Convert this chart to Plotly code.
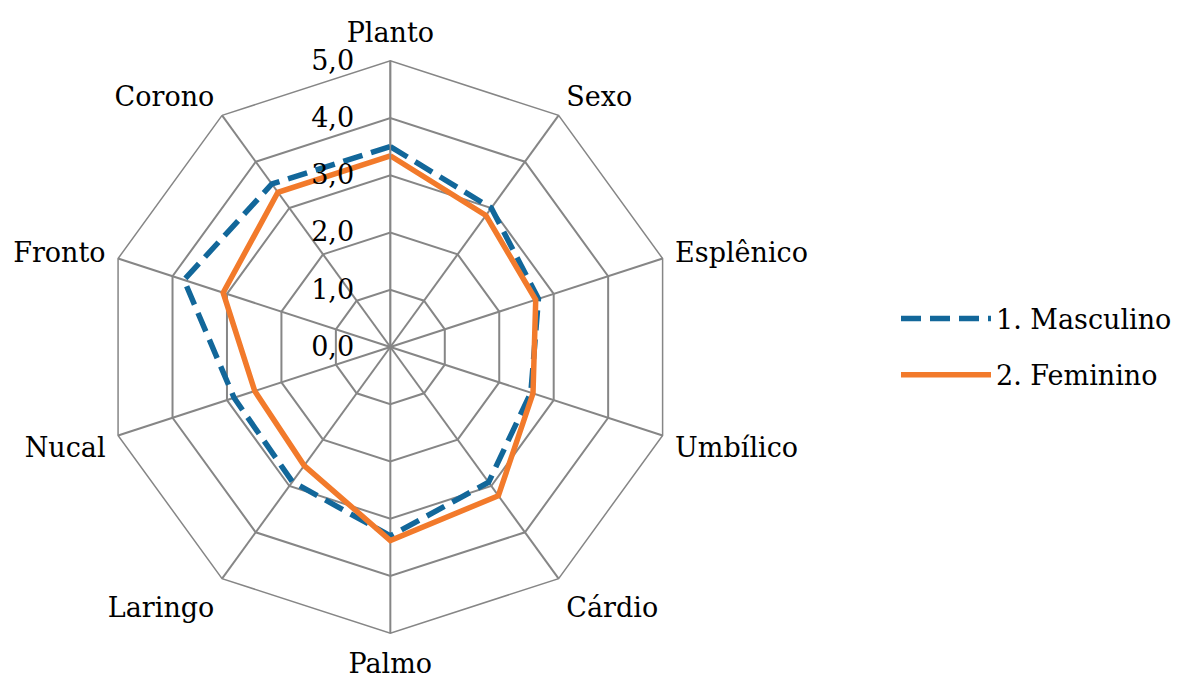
import plotly.graph_objects as go

categories = ["Planto", "Sexo", "Esplênico", "Umbílico", "Cárdio",
              "Palmo", "Laringo", "Nucal", "Fronto", "Corono"]
masculino = [3.50, 3.00, 2.72, 2.58, 2.92, 3.30, 2.91, 2.87, 3.79, 3.52]
feminino = [3.34, 2.84, 2.67, 2.62, 3.21, 3.38, 2.56, 2.49, 3.07, 3.34]
series_names = ["1. Masculino", "2. Feminino"]
radial_ticks = [0, 1, 2, 3, 4, 5]

FONT = "DejaVu Serif"
BLUE = "#12679A"
ORANGE = "#F27A2B"
GRID = "#868686"

fig = go.Figure()
fig.add_trace(go.Scatterpolar(
    r=masculino + masculino[:1], theta=categories + categories[:1],
    mode="lines", name=series_names[0], legendgroup="m",
    line=dict(color=BLUE, width=5.5, dash="20px,9px"),
))
fig.add_trace(go.Scatterpolar(
    r=feminino + feminino[:1], theta=categories + categories[:1],
    mode="lines", name=series_names[1], legendgroup="f",
    line=dict(color=ORANGE, width=5.5),
))

cx, cy, R = 392, 347, 287.5
W, H = 1177, 678
fig.update_layout(
    width=W, height=H,
    margin=dict(l=0, r=0, t=0, b=0),
    paper_bgcolor="white", plot_bgcolor="white",
    separators=",.",
    font=dict(family=FONT, size=27, color="black"),
    polar=dict(
        domain=dict(x=[(cx - R) / W, (cx + R) / W],
                    y=[(H - cy - R) / H, (H - cy + R) / H]),
        bgcolor="white",
        gridshape="linear",
        radialaxis=dict(
            range=[0, 5], tickvals=radial_ticks, tickformat=".1f",
            angle=90, tickangle=90, side="counterclockwise",
            showline=True, linecolor=GRID, linewidth=1.5,
            gridcolor=GRID, gridwidth=1.5,
            ticks="outside", ticklen=26, tickcolor="rgba(0,0,0,0)",
            tickfont=dict(family=FONT, size=27),
        ),
        angularaxis=dict(
            direction="clockwise", rotation=90,
            showline=True, linecolor=GRID, linewidth=1.5,
            gridcolor=GRID, gridwidth=1.5,
            ticks="outside", ticklen=7, tickcolor="rgba(0,0,0,0)",
            tickfont=dict(family=FONT, size=27),
        ),
    ),
    showlegend=True,
    legend=dict(x=900 / W, y=(H - 347) / H, xanchor="left", yanchor="middle",
                font=dict(family=FONT, size=27),
                traceorder="grouped",
                itemwidth=90, tracegroupgap=18, bgcolor="rgba(0,0,0,0)"),
)

fig.write_html("out.html", config={"displayModeBar": False},
               post_script="document.body.style.margin='0';")
